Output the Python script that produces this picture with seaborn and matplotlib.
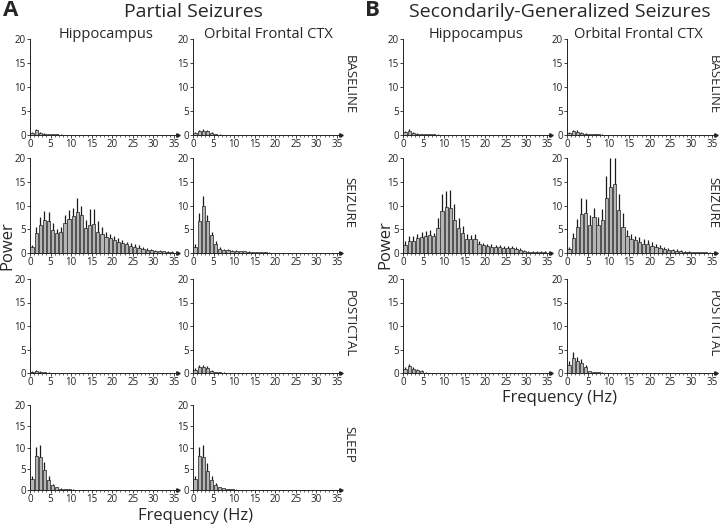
import numpy as np
import matplotlib
matplotlib.use("Agg")
import matplotlib.pyplot as plt
from matplotlib.ticker import MultipleLocator
import seaborn as sns

# frequency bins (Hz), bar centres
FREQ = [0.5, 1.5, 2.5, 3.5, 4.5, 5.5, 6.5, 7.5, 8.5, 9.5, 10.5, 11.5,
        12.5, 13.5, 14.5, 15.5, 16.5, 17.5, 18.5, 19.5, 20.5, 21.5, 22.5,
        23.5, 24.5, 25.5, 26.5, 27.5, 28.5, 29.5, 30.5, 31.5, 32.5, 33.5, 34.5]

# ---- A: partial seizures (mean power and top of error bar) ----
A_HIP_BASE = [0.5, 1.0, 0.5, 0.3, 0.2, 0.15, 0.12, 0.1, 0.08, 0.07, 0.06, 0.05,
              0.05, 0.04, 0.04, 0.03, 0.03, 0.03, 0.03, 0.02, 0.02, 0.02, 0.02,
              0.02, 0.02, 0.01, 0.01, 0.01, 0.01, 0.01, 0.01, 0.01, 0.01, 0.01, 0.01]
A_HIP_BASE_TOP = [0.7, 1.3, 0.7, 0.4, 0.3, 0.2, 0.16, 0.13, 0.1, 0.09, 0.08, 0.07,
                  0.06, 0.05, 0.05, 0.04, 0.04, 0.04, 0.04, 0.03, 0.03, 0.03, 0.03,
                  0.03, 0.03, 0.02, 0.02, 0.02, 0.02, 0.02, 0.02, 0.02, 0.02, 0.02, 0.02]
A_OFC_BASE = [0.4, 0.8, 0.9, 0.8, 0.4, 0.2, 0.1, 0.08, 0.06, 0.05, 0.05, 0.04,
              0.04, 0.03, 0.03, 0.03, 0.02, 0.02, 0.02, 0.02, 0.02, 0.02, 0.01,
              0.01, 0.01, 0.01, 0.01, 0.01, 0.01, 0.01, 0.01, 0.01, 0.01, 0.01, 0.01]
A_OFC_BASE_TOP = [0.6, 1.1, 1.2, 1.1, 0.6, 0.3, 0.15, 0.1, 0.08, 0.07, 0.06, 0.05,
                  0.05, 0.04, 0.04, 0.04, 0.03, 0.03, 0.03, 0.03, 0.03, 0.03, 0.02,
                  0.02, 0.02, 0.02, 0.02, 0.02, 0.02, 0.02, 0.02, 0.02, 0.02, 0.02, 0.02]

A_HIP_SEIZ = [1.3, 4.2, 6.0, 7.0, 6.8, 4.9, 4.2, 4.5, 6.4, 7.2, 7.8, 8.6,
              7.9, 5.2, 6.0, 6.1, 4.5, 3.9, 3.3, 3.1, 2.7, 2.4, 2.1, 1.8,
              1.5, 1.3, 1.1, 0.9, 0.7, 0.6, 0.5, 0.4, 0.35, 0.3, 0.25]
A_HIP_SEIZ_TOP = [1.7, 5.5, 7.6, 8.9, 8.7, 6.3, 5.1, 5.5, 8.0, 9.0, 9.4, 11.5,
                  10.0, 7.0, 9.3, 9.2, 6.8, 5.5, 4.5, 4.0, 3.6, 3.2, 2.8, 2.4,
                  2.1, 1.9, 1.6, 1.3, 1.0, 0.9, 0.7, 0.6, 0.5, 0.45, 0.4]
A_OFC_SEIZ = [1.3, 6.8, 9.8, 6.8, 3.8, 2.0, 0.9, 0.7, 0.6, 0.5, 0.45, 0.4,
              0.35, 0.3, 0.25, 0.2, 0.15, 0.12, 0.1, 0.08, 0.06, 0.05, 0.04,
              0.04, 0.03, 0.03, 0.02, 0.02, 0.02, 0.02, 0.02, 0.01, 0.01, 0.01, 0.01]
A_OFC_SEIZ_TOP = [2.0, 8.4, 12.0, 8.0, 4.5, 2.5, 1.2, 0.9, 0.8, 0.7, 0.6, 0.5,
                  0.45, 0.4, 0.3, 0.25, 0.2, 0.15, 0.12, 0.1, 0.08, 0.07, 0.06,
                  0.05, 0.04, 0.04, 0.03, 0.03, 0.03, 0.03, 0.03, 0.02, 0.02, 0.02, 0.02]

A_HIP_POST = [0.3, 0.4, 0.3, 0.15, 0.1, 0.08, 0.06, 0.05, 0.04, 0.03, 0.03, 0.02,
              0.02, 0.02, 0.02, 0.02, 0.01, 0.01, 0.01, 0.01, 0.01, 0.01, 0.01,
              0.01, 0.01, 0.01, 0.01, 0.01, 0.01, 0.01, 0.01, 0.01, 0.01, 0.01, 0.01]
A_HIP_POST_TOP = [0.4, 0.55, 0.4, 0.2, 0.14, 0.1, 0.08, 0.07, 0.05, 0.04, 0.04, 0.03,
                  0.03, 0.03, 0.03, 0.03, 0.02, 0.02, 0.02, 0.02, 0.02, 0.02, 0.02,
                  0.02, 0.02, 0.02, 0.02, 0.02, 0.02, 0.02, 0.02, 0.02, 0.02, 0.02, 0.02]
A_OFC_POST = [0.7, 1.3, 1.2, 1.1, 0.5, 0.25, 0.15, 0.1, 0.08, 0.06, 0.05, 0.04,
              0.03, 0.03, 0.03, 0.02, 0.02, 0.02, 0.02, 0.02, 0.01, 0.01, 0.01,
              0.01, 0.01, 0.01, 0.01, 0.01, 0.01, 0.01, 0.01, 0.01, 0.01, 0.01, 0.01]
A_OFC_POST_TOP = [1.0, 1.7, 1.6, 1.5, 0.7, 0.3, 0.2, 0.14, 0.1, 0.08, 0.07, 0.05,
                  0.04, 0.04, 0.04, 0.03, 0.03, 0.03, 0.03, 0.03, 0.02, 0.02, 0.02,
                  0.02, 0.02, 0.02, 0.02, 0.02, 0.02, 0.02, 0.02, 0.02, 0.02, 0.02, 0.02]

A_HIP_SLEEP = [2.6, 8.1, 7.7, 4.7, 2.3, 1.1, 0.6, 0.35, 0.2, 0.12, 0.08, 0.06,
               0.05, 0.04, 0.03, 0.02, 0.02, 0.02, 0.02, 0.01, 0.01, 0.01, 0.01,
               0.01, 0.01, 0.01, 0.01, 0.01, 0.01, 0.01, 0.01, 0.01, 0.01, 0.01, 0.01]
A_HIP_SLEEP_TOP = [3.3, 10.2, 10.6, 6.5, 3.2, 1.5, 0.8, 0.5, 0.3, 0.18, 0.12, 0.09,
                   0.07, 0.06, 0.04, 0.03, 0.03, 0.03, 0.03, 0.02, 0.02, 0.02, 0.02,
                   0.02, 0.02, 0.02, 0.02, 0.02, 0.02, 0.02, 0.02, 0.02, 0.02, 0.02, 0.02]
A_OFC_SLEEP = [2.6, 8.1, 7.7, 4.5, 2.3, 1.2, 0.6, 0.4, 0.25, 0.15, 0.1, 0.07,
               0.05, 0.04, 0.03, 0.03, 0.02, 0.02, 0.02, 0.02, 0.01, 0.01, 0.01,
               0.01, 0.01, 0.01, 0.01, 0.01, 0.01, 0.01, 0.01, 0.01, 0.01, 0.01, 0.01]
A_OFC_SLEEP_TOP = [3.4, 10.2, 10.7, 6.3, 3.2, 1.6, 0.8, 0.55, 0.35, 0.2, 0.14, 0.1,
                   0.07, 0.06, 0.04, 0.04, 0.03, 0.03, 0.03, 0.03, 0.02, 0.02, 0.02,
                   0.02, 0.02, 0.02, 0.02, 0.02, 0.02, 0.02, 0.02, 0.02, 0.02, 0.02, 0.02]

# ---- B: secondarily-generalized seizures ----
B_HIP_BASE = [0.6, 0.9, 0.4, 0.3, 0.2, 0.15, 0.2, 0.15, 0.1, 0.08, 0.05, 0.04,
              0.04, 0.03, 0.03, 0.03, 0.02, 0.02, 0.02, 0.02, 0.02, 0.02, 0.01,
              0.01, 0.01, 0.01, 0.01, 0.01, 0.01, 0.01, 0.01, 0.01, 0.01, 0.01, 0.01]
B_HIP_BASE_TOP = [0.8, 1.2, 0.6, 0.4, 0.3, 0.2, 0.28, 0.2, 0.14, 0.1, 0.07, 0.06,
                  0.05, 0.04, 0.04, 0.04, 0.03, 0.03, 0.03, 0.03, 0.03, 0.03, 0.02,
                  0.02, 0.02, 0.02, 0.02, 0.02, 0.02, 0.02, 0.02, 0.02, 0.02, 0.02, 0.02]
B_OFC_BASE = [0.4, 0.8, 0.7, 0.5, 0.3, 0.2, 0.15, 0.12, 0.1, 0.08, 0.06, 0.05,
              0.04, 0.04, 0.03, 0.03, 0.02, 0.02, 0.02, 0.02, 0.02, 0.01, 0.01,
              0.01, 0.01, 0.01, 0.01, 0.01, 0.01, 0.01, 0.01, 0.01, 0.01, 0.01, 0.01]
B_OFC_BASE_TOP = [0.6, 1.1, 1.0, 0.7, 0.4, 0.28, 0.2, 0.16, 0.13, 0.1, 0.08, 0.07,
                  0.05, 0.05, 0.04, 0.04, 0.03, 0.03, 0.03, 0.03, 0.03, 0.02, 0.02,
                  0.02, 0.02, 0.02, 0.02, 0.02, 0.02, 0.02, 0.02, 0.02, 0.02, 0.02, 0.02]

B_HIP_SEIZ = [1.7, 2.6, 2.6, 3.1, 3.4, 3.5, 3.8, 3.5, 5.2, 8.9, 9.7, 9.4,
              7.0, 5.3, 4.2, 3.0, 2.9, 3.0, 1.8, 1.6, 1.4, 1.2, 1.2, 1.2,
              1.1, 1.1, 1.0, 0.9, 0.6, 0.4, 0.3, 0.3, 0.3, 0.3, 0.2]
B_HIP_SEIZ_TOP = [2.6, 3.5, 3.5, 4.0, 4.4, 4.7, 4.9, 4.3, 7.4, 12.5, 13.1, 13.2,
                  10.3, 7.3, 5.6, 4.0, 3.8, 4.0, 2.6, 2.2, 2.0, 1.8, 1.7, 1.6,
                  1.5, 1.5, 1.4, 1.3, 1.0, 0.7, 0.5, 0.5, 0.4, 0.4, 0.4]
B_OFC_SEIZ = [0.8, 3.2, 5.4, 8.3, 8.4, 6.0, 7.5, 6.0, 7.0, 11.5, 13.9, 14.5,
              9.0, 5.5, 3.5, 3.0, 2.7, 2.4, 2.0, 2.0, 1.5, 1.3, 1.0, 0.8,
              0.7, 0.6, 0.5, 0.4, 0.3, 0.3, 0.2, 0.2, 0.15, 0.15, 0.1]
B_OFC_SEIZ_TOP = [1.2, 4.2, 7.2, 11.5, 11.4, 8.0, 9.5, 7.5, 9.2, 16.2, 20.0, 20.0,
                  12.5, 8.5, 4.8, 4.0, 3.6, 3.4, 3.0, 2.8, 2.3, 2.0, 1.6, 1.3,
                  1.1, 0.9, 0.8, 0.6, 0.5, 0.4, 0.3, 0.3, 0.25, 0.2, 0.15]

B_HIP_POST = [0.9, 1.5, 0.9, 0.6, 0.5, 0.1, 0.06, 0.05, 0.04, 0.03, 0.03, 0.02,
              0.02, 0.02, 0.02, 0.02, 0.01, 0.01, 0.01, 0.01, 0.01, 0.01, 0.01,
              0.01, 0.01, 0.01, 0.01, 0.01, 0.01, 0.01, 0.01, 0.01, 0.01, 0.01, 0.01]
B_HIP_POST_TOP = [1.3, 2.0, 1.2, 0.8, 0.7, 0.15, 0.09, 0.07, 0.06, 0.05, 0.04, 0.03,
                  0.03, 0.03, 0.03, 0.03, 0.02, 0.02, 0.02, 0.02, 0.02, 0.02, 0.02,
                  0.02, 0.02, 0.02, 0.02, 0.02, 0.02, 0.02, 0.02, 0.02, 0.02, 0.02, 0.02]
B_OFC_POST = [1.7, 3.1, 2.6, 2.1, 1.2, 0.4, 0.2, 0.15, 0.1, 0.08, 0.06, 0.05,
              0.04, 0.03, 0.03, 0.02, 0.02, 0.02, 0.02, 0.02, 0.01, 0.01, 0.01,
              0.01, 0.01, 0.01, 0.01, 0.01, 0.01, 0.01, 0.01, 0.01, 0.01, 0.01, 0.01]
B_OFC_POST_TOP = [2.6, 4.4, 3.4, 2.9, 1.7, 0.5, 0.28, 0.2, 0.14, 0.1, 0.08, 0.07,
                  0.05, 0.04, 0.04, 0.03, 0.03, 0.03, 0.03, 0.03, 0.02, 0.02, 0.02,
                  0.02, 0.02, 0.02, 0.02, 0.02, 0.02, 0.02, 0.02, 0.02, 0.02, 0.02, 0.02]

STATES_A = ["BASELINE", "SEIZURE", "POSTICTAL", "SLEEP"]
STATES_B = ["BASELINE", "SEIZURE", "POSTICTAL"]
REGIONS = ["Hippocampus", "Orbital Frontal CTX"]

PANEL_A = [(A_HIP_BASE, A_HIP_BASE_TOP, A_OFC_BASE, A_OFC_BASE_TOP),
           (A_HIP_SEIZ, A_HIP_SEIZ_TOP, A_OFC_SEIZ, A_OFC_SEIZ_TOP),
           (A_HIP_POST, A_HIP_POST_TOP, A_OFC_POST, A_OFC_POST_TOP),
           (A_HIP_SLEEP, A_HIP_SLEEP_TOP, A_OFC_SLEEP, A_OFC_SLEEP_TOP)]
PANEL_B = [(B_HIP_BASE, B_HIP_BASE_TOP, B_OFC_BASE, B_OFC_BASE_TOP),
           (B_HIP_SEIZ, B_HIP_SEIZ_TOP, B_OFC_SEIZ, B_OFC_SEIZ_TOP),
           (B_HIP_POST, B_HIP_POST_TOP, B_OFC_POST, B_OFC_POST_TOP)]

sns.set_style("ticks")
plt.rcParams["font.family"] = ["Open Sans", "DejaVu Sans"]

W, H = 720, 528
BAR = "#b4b4b4"
EDGE = "#3a3a3a"

fig = plt.figure(figsize=(W / 100, H / 100), dpi=100)


def px_axes(x0, ytop, ybot, w=148):
    # pixel box -> figure fraction box
    return fig.add_axes([x0 / W, 1 - ybot / H, w / W, (ybot - ytop) / H])


def draw_bars(ax, vals, tops):
    sns.barplot(x=FREQ, y=vals, native_scale=True, width=0.8, color=BAR,
                saturation=1, edgecolor=EDGE, linewidth=0.6, ax=ax)
    lo = np.zeros(len(vals))
    hi = np.array(tops) - np.array(vals)
    ax.errorbar(FREQ, vals, yerr=[lo, hi], fmt="none", ecolor="#1a1a1a",
                elinewidth=0.9, capsize=0)
    ax.set_xlim(0, 36)
    ax.set_ylim(0, 20)
    ax.set_xticks([0, 5, 10, 15, 20, 25, 30, 35])
    ax.set_yticks([0, 5, 10, 15, 20])
    ax.xaxis.set_minor_locator(MultipleLocator(1))
    ax.tick_params(axis="both", which="major", labelsize=7, length=2,
                   width=0.6, pad=1, colors="#222222")
    ax.tick_params(axis="x", which="minor", length=1.2, width=0.5)
    ax.set_xlabel("")
    ax.set_ylabel("")
    sns.despine(ax=ax)
    for s in ("left", "bottom"):
        ax.spines[s].set_linewidth(0.7)
        ax.spines[s].set_color("#222222")
    ax.plot([1], [0], marker=">", ms=2.5, color="#222222",
            transform=ax.transAxes, clip_on=False)


ROWS = [(39, 135), (158, 253), (279, 373), (405, 490)]
COLS_A = [(30, 148), (193, 148)]
COLS_B = [(403, 148), (567, 149)]

for r, data in enumerate(PANEL_A):
    ytop, ybot = ROWS[r]
    for c in range(2):
        ax = px_axes(COLS_A[c][0], ytop, ybot, COLS_A[c][1])
        draw_bars(ax, data[2 * c], data[2 * c + 1])
    fig.text(349 / W, 1 - (ytop + ybot) / 2 / H + 0.005, STATES_A[r],
             rotation=270, ha="center", va="center", fontsize=9.5)

for r, data in enumerate(PANEL_B):
    ytop, ybot = ROWS[r]
    for c in range(2):
        ax = px_axes(COLS_B[c][0], ytop, ybot, COLS_B[c][1])
        draw_bars(ax, data[2 * c], data[2 * c + 1])
    fig.text(713 / W, 1 - (ytop + ybot) / 2 / H + 0.005, STATES_B[r],
             rotation=270, ha="center", va="center", fontsize=9.5)

# panel letters and titles
fig.text(3 / W, 1 - 10 / H, "A", fontsize=16, fontweight="bold", va="center")
fig.text(365 / W, 1 - 10 / H, "B", fontsize=16, fontweight="bold", va="center")
fig.text(193 / W, 1 - 12 / H, "Partial Seizures", fontsize=14,
         ha="center", va="center")
fig.text(560 / W, 1 - 12 / H, "Secondarily-Generalized Seizures", fontsize=14,
         ha="center", va="center")

for x, name in zip([106, 268, 476, 638], REGIONS * 2):
    fig.text(x / W, 1 - 35 / H, name, fontsize=10.5, ha="center", va="center")

fig.text(7 / W, 1 - 246 / H, "Power", fontsize=12, rotation=90,
         ha="center", va="center")
fig.text(385 / W, 1 - 245 / H, "Power", fontsize=12, rotation=90,
         ha="center", va="center")
fig.text(196 / W, 1 - 516 / H, "Frequency (Hz)", fontsize=12,
         ha="center", va="center")
fig.text(559 / W, 1 - 398 / H, "Frequency (Hz)", fontsize=12,
         ha="center", va="center")

fig.savefig("out.png", dpi=100)
